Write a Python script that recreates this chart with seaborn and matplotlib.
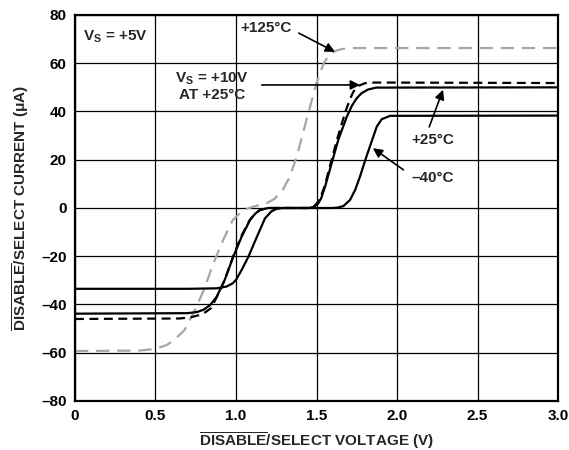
import numpy as np
import pandas as pd
import matplotlib
matplotlib.use("Agg")
import matplotlib.pyplot as plt
import seaborn as sns

# curve readings (voltage V, current uA)
v_m40 = [0, 0.70, 0.88, 0.94, 0.98, 1.00, 1.035, 1.077, 1.13, 1.18, 1.22, 1.25, 1.29, 1.60, 1.635,
         1.667, 1.708, 1.74, 1.77, 1.81, 1.853, 1.874, 1.905, 1.957, 3.0]
i_m40 = [-33.5, -33.5, -33.3, -32.6, -31.2, -29.8, -25.7, -20.2, -11.9, -4.3, -1.4, -0.4, 0, 0, 0.2,
         0.8, 3.3, 7.5, 13, 21.3, 29.6, 33.7, 36.8, 38.2, 38.3]

v_25 = [0, 0.70, 0.76, 0.80, 0.84, 0.88, 0.93, 0.983, 1.035, 1.087, 1.12, 1.15, 1.20, 1.45, 1.48,
        1.51, 1.53, 1.553, 1.594, 1.635, 1.688, 1.72, 1.75, 1.78, 1.82, 1.87, 3.0]
i_25 = [-43.8, -43.6, -43.1, -42.1, -40.2, -36.8, -29.8, -20.2, -11.9, -5, -2.3, -0.8, 0, 0, 0.4,
        1.8, 4.2, 8.8, 18.5, 28.2, 37.8, 42.4, 45.5, 47.6, 49.1, 49.9, 50]

v_10v = [0, 0.65, 0.72, 0.77, 0.81, 0.845, 0.88, 0.93, 0.98, 1.03, 1.085, 1.12, 1.15, 1.20, 1.45, 1.49,
         1.52, 1.55, 1.59, 1.63, 1.68, 1.71, 1.73, 1.76, 1.80, 1.86, 3.0]
i_10v = [-46, -45.8, -45.3, -44.4, -43.2, -41.5, -37, -29.8, -20.5, -12, -5, -2.2, -0.8, 0, 0, 1,
         3.5, 9, 19, 29, 40, 45.5, 48.3, 50.6, 51.7, 52, 51.8]

v_125 = [0, 0.40, 0.50, 0.57, 0.62, 0.68, 0.745, 0.80, 0.86, 0.92, 0.98, 1.03, 1.07, 1.11, 1.19, 1.24,
         1.29, 1.335, 1.38, 1.41, 1.46, 1.50, 1.545, 1.57, 1.595, 1.625, 1.66, 1.71, 3.0]
i_125 = [-59.3, -59.1, -58.4, -56.8, -54.5, -50.6, -42.3, -34, -22.9, -13.3, -5, -1.8, -0.3, 0.6, 2, 3.8,
         7.5, 13, 22, 29.6, 42, 51.7, 60, 62.6, 64.2, 65.3, 65.9, 66.3, 66.3]

x_ticks = [0, 0.5, 1.0, 1.5, 2.0, 2.5, 3.0]
x_tick_labels = ["0", "0.5", "1.0", "1.5", "2.0", "2.5", "3.0"]
y_ticks = [-80, -60, -40, -20, 0, 20, 40, 60, 80]
y_tick_labels = ["–80", "–60", "–40", "–20", "0", "20", "40", "60", "80"]

sns.set_style("white")
plt.rcParams['font.family'] = ['Liberation Sans', 'DejaVu Sans']
plt.rcParams['font.weight'] = 'bold'
plt.rcParams['mathtext.fontset'] = 'custom'
plt.rcParams['mathtext.bf'] = 'Liberation Sans:bold'
plt.rcParams['mathtext.rm'] = 'Liberation Sans:bold'
plt.rcParams['mathtext.it'] = 'Liberation Sans:bold'

fs = 11
fig = plt.figure(figsize=(5.69, 4.5), dpi=100)
ax = fig.add_axes([0.1318, 0.1089, 0.8489, 0.8578])

grey = '#a6a6a6'
sns.lineplot(x=v_125, y=i_125, ax=ax, color=grey, lw=1.6, sort=False, estimator=None)
ax.lines[-1].set_dashes([6, 3.5])
sns.lineplot(x=v_10v, y=i_10v, ax=ax, color='black', lw=1.6, sort=False, estimator=None)
ax.lines[-1].set_dashes([4, 2.5])
sns.lineplot(x=v_25, y=i_25, ax=ax, color='black', lw=1.6, sort=False, estimator=None)
sns.lineplot(x=v_m40, y=i_m40, ax=ax, color='black', lw=1.6, sort=False, estimator=None)

ax.set_xlim(0, 3.0)
ax.set_ylim(-80, 80)
ax.set_xticks(x_ticks)
ax.set_xticklabels(x_tick_labels)
ax.set_yticks(y_ticks)
ax.set_yticklabels(y_tick_labels)
ax.tick_params(length=0, labelsize=fs, pad=6, colors='black')
ax.grid(True, color='black', lw=0.9)
ax.set_axisbelow(True)
for s in ax.spines.values():
    s.set_visible(True)
    s.set_color('black')
    s.set_linewidth(1.6)

ax.set_xlabel(r"$\overline{\mathbf{DISABLE}}$/SELECT VOLTAGE (V)", fontsize=fs,
              fontweight='bold', labelpad=5)
ax.set_ylabel(r"$\overline{\mathbf{DISABLE}}$/SELECT CURRENT (μA)", fontsize=fs,
              fontweight='bold', labelpad=7)

ax.text(0.05, 71, r"$\mathbf{V_S}$ = +5V", fontsize=fs, fontweight='bold', va='center')
ax.text(1.03, 74.5, "+125°C", fontsize=fs, fontweight='bold', va='center')
ax.text(0.85, 50.5, "V$_\\mathbf{S}$ = +10V\nAT +25°C", fontsize=fs, fontweight='bold',
        va='center', ha='center', linespacing=1.1)
ax.text(2.22, 28.2, "+25°C", fontsize=fs, fontweight='bold', va='center', ha='center')
ax.text(2.22, 12.4, "–40°C", fontsize=fs, fontweight='bold', va='center', ha='center')

arrow = dict(arrowstyle='-|>', color='black', lw=1.2, mutation_scale=14, shrinkA=0, shrinkB=0)
ax.annotate("", xy=(1.615, 64.7), xytext=(1.39, 72.5), arrowprops=arrow)
ax.annotate("", xy=(1.77, 51), xytext=(1.16, 51), arrowprops=arrow)
ax.annotate("", xy=(2.286, 49), xytext=(2.2, 33.6), arrowprops=arrow)
ax.annotate("", xy=(1.85, 24.8), xytext=(2.04, 15.8), arrowprops=arrow)

fig.savefig("out.png", dpi=100)
